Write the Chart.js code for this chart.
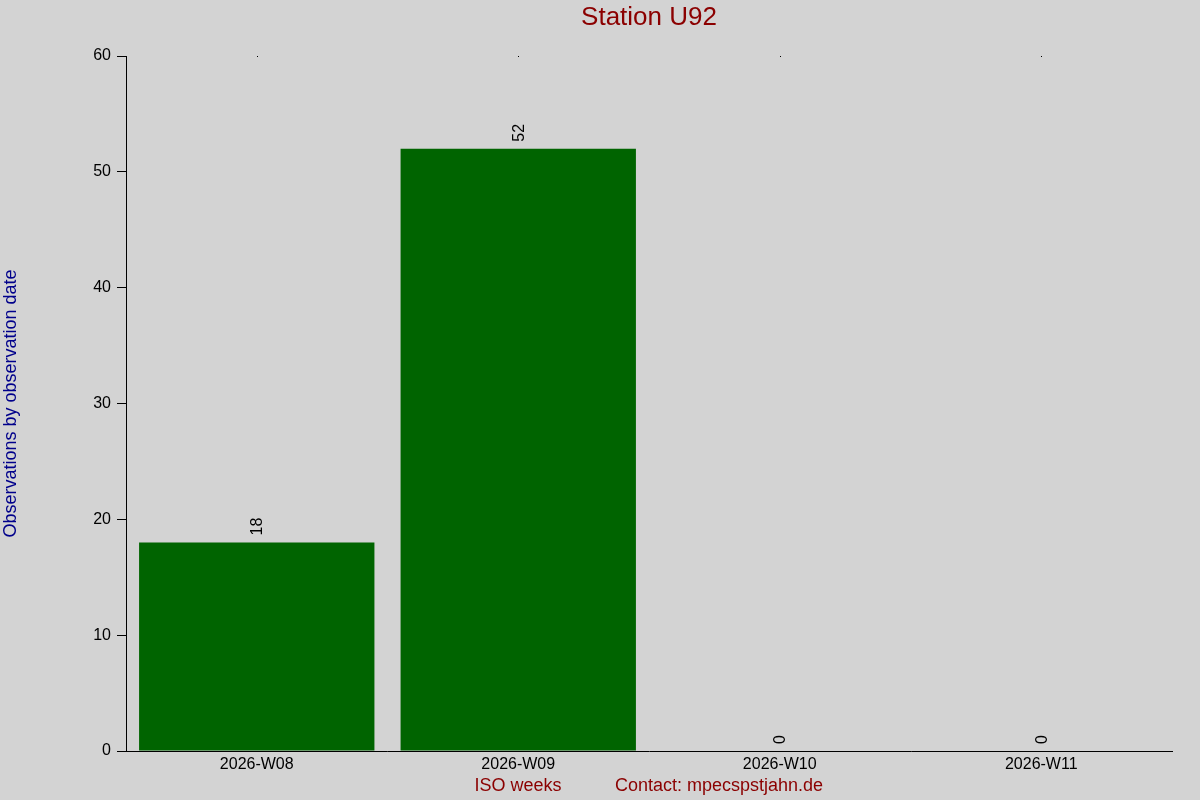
<!DOCTYPE html>
<html>
<head>
<meta charset="utf-8">
<script src="https://cdn.jsdelivr.net/npm/chart.js@4"></script>
<style>
  body { margin: 0; background: #d3d3d3; }
  #wrap { width: 1200px; height: 800px; }
</style>
</head>
<body>
<div id="wrap"><canvas id="bar-chart" width="1200" height="800"></canvas></div>
<script>
const weeks = ["2026-W08", "2026-W09", "2026-W10", "2026-W11"];
const counts = [18, 52, 0, 0];
const yTicks = [0, 10, 20, 30, 40, 50, 60];

const FONT = "'Liberation Sans', Arial, sans-serif";

// extra drawing: background, title, value labels, footer texts
const decor = {
  id: "decor",
  beforeDraw(chart) {
    const c = chart.ctx;
    c.save();
    c.fillStyle = "#d3d3d3";
    c.fillRect(0, 0, chart.width, chart.height);
    c.restore();
  },
  afterDraw(chart) {
    const c = chart.ctx;
    const area = chart.chartArea;
    const x = chart.scales.x;
    c.save();
    // title
    c.fillStyle = "#8b0000";
    c.font = "26px " + FONT;
    c.textAlign = "center";
    c.textBaseline = "middle";
    c.fillText("Station U92", (area.left + area.right) / 2, 18);
    // footer
    c.font = "18px " + FONT;
    c.fillText("ISO weeks", 518, 786);
    c.fillText("Contact: mpecspstjahn.de", 719, 786);
    // top dots
    c.fillStyle = "#000";
    weeks.forEach((w, i) => c.fillRect(Math.round(x.getPixelForValue(i)), area.top, 1, 1));
    // value labels
    const meta = chart.getDatasetMeta(0);
    c.font = "16px " + FONT;
    c.textAlign = "left";
    c.textBaseline = "middle";
    meta.data.forEach((bar, i) => {
      c.save();
      c.translate(bar.x + 1, bar.y - 7);
      c.rotate(-Math.PI / 2);
      c.fillText(String(counts[i]), 0, 0);
      c.restore();
    });
    c.restore();
  }
};

const ctx = document.getElementById("bar-chart").getContext("2d");
const chart = new Chart(ctx, {
  type: "bar",
  data: {
    labels: weeks,
    datasets: [
      {
        data: counts,
        backgroundColor: "#006400",
        borderWidth: 0,
        categoryPercentage: 0.9,
        barPercentage: 1.0,
      },
    ],
  },
  options: {
    responsive: false,
    animation: false,
    layout: { padding: { top: 56, right: 28, left: 0, bottom: 0 } },
    plugins: {
      legend: { display: false },
      tooltip: { enabled: false },
      title: { display: false },
    },
    scales: {
      x: {
        grid: { display: false, drawTicks: false },
        border: { display: true, color: "#000", width: 1 },
        ticks: { color: "#000", font: { family: FONT, size: 16 }, padding: 4, maxRotation: 0 },
        afterFit: (s) => { s.height = 49; },
      },
      y: {
        min: 0,
        max: 60,
        afterBuildTicks: (s) => { s.ticks = yTicks.map((v) => ({ value: v })); },
        grid: { display: true, drawOnChartArea: false, drawTicks: true, tickLength: 9, color: "#000" },
        border: { display: true, color: "#000", width: 1 },
        ticks: { color: "#000", font: { family: FONT, size: 16 }, padding: 6 },
        title: {
          display: true,
          text: "Observations by observation date",
          color: "#00008b",
          font: { family: FONT, size: 18 },
          padding: { top: 0, bottom: 0 },
        },
        afterFit: (s) => { s.width = 126; },
      },
    },
  },
  plugins: [decor],
});
</script>
</body>
</html>
